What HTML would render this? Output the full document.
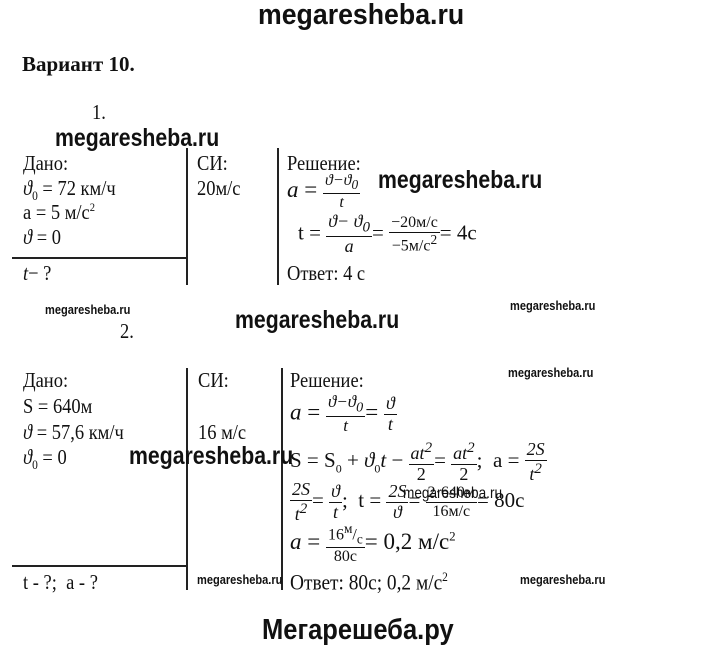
<!DOCTYPE html>
<html><head><meta charset="utf-8"><style>
body{margin:0;width:720px;height:652px;background:#fff;position:relative;overflow:hidden;font-family:"Liberation Serif",serif;color:#111}
.a{position:absolute;white-space:nowrap;line-height:1}
.s{font-size:21px;transform:scaleX(0.88);transform-origin:left}
.wm{font-family:"Liberation Sans",sans-serif;font-weight:bold;transform:scaleX(0.85);transform-origin:left}
.v{position:absolute;width:2px;background:#222}
.h{position:absolute;height:2px;background:#222}
.fr{display:inline-block;vertical-align:middle;text-align:center;font-size:18px;font-style:italic;line-height:1.1}
.fr span{display:block;padding:0 2px}
.fr span.t{border-bottom:1.5px solid #111}
</style></head><body>
<div class="a wm" style="left:258px;top:1px;font-size:29px;transform:scaleX(0.92)">megaresheba.ru</div>
<div class="a" style="left:22px;top:54px;font-size:21px;font-weight:bold">Вариант 10.</div>

<div class="a s" style="left:92px;top:102px">1.</div>
<div class="a wm" style="left:55px;top:126px;font-size:25px">megaresheba.ru</div>
<div class="v" style="left:186px;top:148px;height:137px"></div>
<div class="v" style="left:277px;top:148px;height:137px"></div>
<div class="h" style="left:12px;top:257px;width:176px"></div>
<div class="a s" style="left:23px;top:153px">Дано:</div>
<div class="a s" style="left:23px;top:178px"><i>ϑ</i><sub style="font-size:13px">0</sub> = 72 км/ч</div>
<div class="a s" style="left:23px;top:201px">a = 5 м/с<sup style="font-size:12px">2</sup></div>
<div class="a s" style="left:23px;top:227px"><i>ϑ</i> = 0</div>
<div class="a s" style="left:23px;top:263px"><i>t</i>− ?</div>
<div class="a s" style="left:197px;top:153px">СИ:</div>
<div class="a s" style="left:197px;top:178px">20м/с</div>
<div class="a s" style="left:287px;top:153px">Решение:</div>
<div class="a" style="left:287px;top:172px;font-size:23px"><i>a</i> = <span class="fr" style="font-size:16px"><span class="t">ϑ−ϑ<sub>0</sub></span><span>t</span></span></div>
<div class="a wm" style="left:378px;top:168px;font-size:25px">megaresheba.ru</div>
<div class="a" style="left:298px;top:212px;font-size:21px">t = <span class="fr"><span class="t">ϑ− ϑ<sub>0</sub></span><span>a</span></span>= <span class="fr" style="font-style:normal;font-size:16px"><span class="t">−20м/с</span><span>−5м/с<sup>2</sup></span></span>= 4с</div>
<div class="a s" style="left:287px;top:263px">Ответ: 4 с</div>

<div class="a wm" style="left:45px;top:303px;font-size:13px">megaresheba.ru</div>
<div class="a wm" style="left:510px;top:299px;font-size:13px">megaresheba.ru</div>
<div class="a wm" style="left:235px;top:308px;font-size:25px">megaresheba.ru</div>
<div class="a s" style="left:120px;top:321px">2.</div>

<div class="v" style="left:186px;top:368px;height:222px"></div>
<div class="v" style="left:281px;top:368px;height:222px"></div>
<div class="h" style="left:12px;top:565px;width:176px"></div>
<div class="a s" style="left:23px;top:370px">Дано:</div>
<div class="a s" style="left:23px;top:396px">S = 640м</div>
<div class="a s" style="left:23px;top:422px"><i>ϑ</i> = 57,6 км/ч</div>
<div class="a s" style="left:23px;top:447px"><i>ϑ</i><sub style="font-size:13px">0</sub> = 0</div>
<div class="a s" style="left:23px;top:572px">t - ?;&nbsp; a - ?</div>
<div class="a s" style="left:198px;top:370px">СИ:</div>
<div class="a s" style="left:198px;top:422px">16 м/с</div>
<div class="a wm" style="left:129px;top:444px;font-size:25px">megaresheba.ru</div>
<div class="a s" style="left:290px;top:370px">Решение:</div>
<div class="a wm" style="left:508px;top:366px;font-size:13px">megaresheba.ru</div>
<div class="a" style="left:290px;top:393px;font-size:23px"><i>a</i> = <span class="fr" style="font-size:17px"><span class="t">ϑ−ϑ<sub>0</sub></span><span>t</span></span>= <span class="fr"><span class="t">ϑ</span><span>t</span></span></div>
<div class="a" style="left:290px;top:440px;font-size:21px">S = S<sub style="font-size:12px">0</sub> + <i>ϑ</i><sub style="font-size:12px">0</sub><i>t</i> − <span class="fr"><span class="t">at<sup>2</sup></span><span style="font-style:normal">2</span></span>= <span class="fr"><span class="t">at<sup>2</sup></span><span style="font-style:normal">2</span></span>;&nbsp; a = <span class="fr"><span class="t">2S</span><span>t<sup>2</sup></span></span></div>
<div class="a" style="left:290px;top:480px;font-size:21px"><span class="fr"><span class="t">2S</span><span>t<sup>2</sup></span></span>= <span class="fr"><span class="t">ϑ</span><span>t</span></span>;&nbsp; t = <span class="fr"><span class="t">2S</span><span>ϑ</span></span>= <span class="fr" style="font-style:normal;font-size:16px"><span class="t">2·640м</span><span>16м/с</span></span>= 80с</div>
<div class="a wm" style="left:403px;top:486px;font-size:16px;font-weight:normal">megaresheba.ru</div>
<div class="a" style="left:290px;top:522px;font-size:23px"><i>a</i> = <span class="fr" style="font-style:normal;font-size:16px"><span class="t">16<sup>м</sup>/<sub>с</sub></span><span>80с</span></span>= 0,2 м/с<sup style="font-size:13px">2</sup></div>
<div class="a s" style="left:290px;top:570px;font-size:22px">Ответ: 80с; 0,2 м/с<sup style="font-size:13px">2</sup></div>
<div class="a wm" style="left:197px;top:573px;font-size:13px">megaresheba.ru</div>
<div class="a wm" style="left:520px;top:573px;font-size:13px">megaresheba.ru</div>

<div class="a wm" style="left:262px;top:616px;font-size:29px;transform:scaleX(0.88)">Мегарешеба.ру</div>
</body></html>
